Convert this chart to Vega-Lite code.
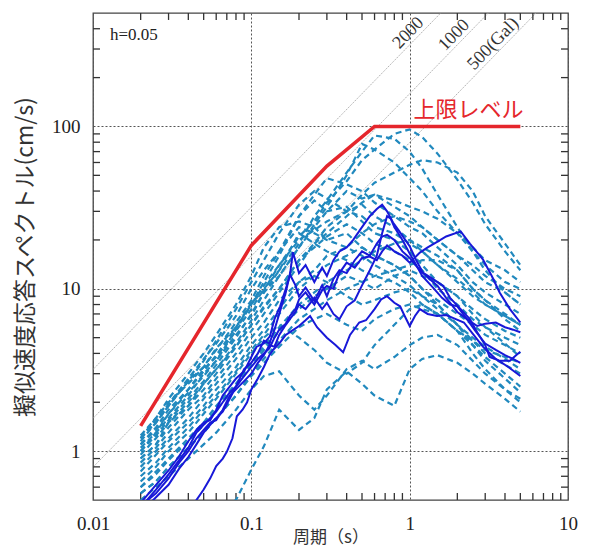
{
"$schema":"https://vega.github.io/schema/vega-lite/v6.json",
"width":475,"height":487,
"autosize":{"type":"none"},
"padding":{"left":93,"top":13,"right":23,"bottom":49},
"background":"white",
"config":{"view":{"stroke":"#444","strokeWidth":1.3}},
"datasets":{
"diag":[{"g":"2000","t":0.01,"v":3.183},{"g":"2000","t":1.571,"v":500},{"g":"1000","t":0.01,"v":1.592},{"g":"1000","t":3.1416,"v":500},{"g":"500","t":0.01,"v":0.796},{"g":"500","t":6.283,"v":500}],
"xticks":[{"t":0.02},{"t":0.03},{"t":0.04},{"t":0.05},{"t":0.06},{"t":0.07},{"t":0.08},{"t":0.09},{"t":0.2},{"t":0.3},{"t":0.4},{"t":0.5},{"t":0.6},{"t":0.7},{"t":0.8},{"t":0.9},{"t":2},{"t":3},{"t":4},{"t":5},{"t":6},{"t":7},{"t":8},{"t":9}],
"yticks":[{"v":0.6},{"v":0.7},{"v":0.8},{"v":0.9},{"v":2},{"v":3},{"v":4},{"v":5},{"v":6},{"v":7},{"v":8},{"v":9},{"v":20},{"v":30},{"v":40},{"v":50},{"v":60},{"v":70},{"v":80},{"v":90},{"v":200},{"v":300},{"v":400}],
"red":[{"t":0.02,"v":1.43},{"t":0.1,"v":18.5},{"t":0.3,"v":57},{"t":0.6,"v":100},{"t":5,"v":100}],
"diaglab":[{"t":1.08,"v":344,"label":"2000"},{"t":2.1,"v":334,"label":"1000"},{"t":3.7,"v":295,"label":"500(Gal)"}],
"redlab":[{"t":2.35,"v":127,"label":"上限レベル"}],
"hlab":[{"t":0.0128,"v":368,"label":"h=0.05"}],
"dashed":[
{"s":"d1","t":0.02,"v":1.2},{"s":"d1","t":0.025,"v":1.5},{"s":"d1","t":0.03,"v":1.9},{"s":"d1","t":0.04,"v":2.7},{"s":"d1","t":0.05,"v":3.3},{"s":"d1","t":0.06,"v":4.3},{"s":"d1","t":0.08,"v":5.8},{"s":"d1","t":0.1,"v":8.2},{"s":"d1","t":0.12,"v":9.8},{"s":"d1","t":0.15,"v":14},{"s":"d1","t":0.2,"v":21},{"s":"d1","t":0.25,"v":26},{"s":"d1","t":0.3,"v":34},{"s":"d1","t":0.4,"v":46},{"s":"d1","t":0.5,"v":62},{"s":"d1","t":0.6,"v":72},{"s":"d1","t":0.8,"v":90},{"s":"d1","t":1,"v":96},{"s":"d1","t":1.2,"v":86},{"s":"d1","t":1.5,"v":68},{"s":"d1","t":2,"v":47},{"s":"d1","t":2.5,"v":34},{"s":"d1","t":3,"v":25},{"s":"d1","t":4,"v":17},{"s":"d1","t":5,"v":13},
{"s":"d2","t":0.02,"v":1.1},{"s":"d2","t":0.025,"v":1.4},{"s":"d2","t":0.03,"v":1.8},{"s":"d2","t":0.04,"v":2.4},{"s":"d2","t":0.05,"v":3.2},{"s":"d2","t":0.06,"v":3.8},{"s":"d2","t":0.08,"v":5.5},{"s":"d2","t":0.1,"v":7.5},{"s":"d2","t":0.12,"v":10},{"s":"d2","t":0.15,"v":13},{"s":"d2","t":0.2,"v":19},{"s":"d2","t":0.25,"v":28},{"s":"d2","t":0.3,"v":35},{"s":"d2","t":0.4,"v":52},{"s":"d2","t":0.5,"v":70},{"s":"d2","t":0.6,"v":88},{"s":"d2","t":0.8,"v":84},{"s":"d2","t":1,"v":70},{"s":"d2","t":1.2,"v":55},{"s":"d2","t":1.5,"v":38},{"s":"d2","t":2,"v":24},{"s":"d2","t":2.5,"v":17},{"s":"d2","t":3,"v":13},{"s":"d2","t":4,"v":9.5},{"s":"d2","t":5,"v":8},
{"s":"d3","t":0.02,"v":1.0},{"s":"d3","t":0.025,"v":1.3},{"s":"d3","t":0.03,"v":1.7},{"s":"d3","t":0.04,"v":2.3},{"s":"d3","t":0.05,"v":2.9},{"s":"d3","t":0.06,"v":3.6},{"s":"d3","t":0.08,"v":5.2},{"s":"d3","t":0.1,"v":6.8},{"s":"d3","t":0.12,"v":9.5},{"s":"d3","t":0.15,"v":12},{"s":"d3","t":0.2,"v":18},{"s":"d3","t":0.25,"v":25},{"s":"d3","t":0.3,"v":32},{"s":"d3","t":0.4,"v":50},{"s":"d3","t":0.5,"v":78},{"s":"d3","t":0.6,"v":72},{"s":"d3","t":0.8,"v":60},{"s":"d3","t":1,"v":48},{"s":"d3","t":1.2,"v":40},{"s":"d3","t":1.5,"v":30},{"s":"d3","t":2,"v":22},{"s":"d3","t":2.5,"v":17},{"s":"d3","t":3,"v":14},{"s":"d3","t":4,"v":11},{"s":"d3","t":5,"v":10},
{"s":"d4","t":0.02,"v":0.9},{"s":"d4","t":0.025,"v":1.1},{"s":"d4","t":0.03,"v":1.5},{"s":"d4","t":0.04,"v":1.9},{"s":"d4","t":0.05,"v":2.6},{"s":"d4","t":0.06,"v":3.2},{"s":"d4","t":0.08,"v":4.4},{"s":"d4","t":0.1,"v":6},{"s":"d4","t":0.12,"v":7.6},{"s":"d4","t":0.15,"v":10},{"s":"d4","t":0.2,"v":15},{"s":"d4","t":0.25,"v":19},{"s":"d4","t":0.3,"v":24},{"s":"d4","t":0.4,"v":30},{"s":"d4","t":0.5,"v":38},{"s":"d4","t":0.6,"v":45},{"s":"d4","t":0.8,"v":52},{"s":"d4","t":1,"v":58},{"s":"d4","t":1.2,"v":62},{"s":"d4","t":1.5,"v":60},{"s":"d4","t":2,"v":52},{"s":"d4","t":2.5,"v":40},{"s":"d4","t":3,"v":28},{"s":"d4","t":4,"v":19},{"s":"d4","t":5,"v":14},
{"s":"d5","t":0.02,"v":1.25},{"s":"d5","t":0.025,"v":1.6},{"s":"d5","t":0.03,"v":2.0},{"s":"d5","t":0.04,"v":2.6},{"s":"d5","t":0.05,"v":3.3},{"s":"d5","t":0.06,"v":4.2},{"s":"d5","t":0.08,"v":6.2},{"s":"d5","t":0.1,"v":8.5},{"s":"d5","t":0.12,"v":12},{"s":"d5","t":0.15,"v":17},{"s":"d5","t":0.2,"v":28},{"s":"d5","t":0.25,"v":38},{"s":"d5","t":0.3,"v":48},{"s":"d5","t":0.4,"v":44},{"s":"d5","t":0.5,"v":40},{"s":"d5","t":0.6,"v":34},{"s":"d5","t":0.8,"v":28},{"s":"d5","t":1,"v":24},{"s":"d5","t":1.2,"v":22},{"s":"d5","t":1.5,"v":18},{"s":"d5","t":2,"v":14},{"s":"d5","t":2.5,"v":11},{"s":"d5","t":3,"v":9.5},{"s":"d5","t":4,"v":8},{"s":"d5","t":5,"v":7},
{"s":"d6","t":0.02,"v":1.15},{"s":"d6","t":0.025,"v":1.5},{"s":"d6","t":0.03,"v":1.9},{"s":"d6","t":0.04,"v":2.7},{"s":"d6","t":0.05,"v":3.6},{"s":"d6","t":0.06,"v":4.8},{"s":"d6","t":0.08,"v":7.5},{"s":"d6","t":0.1,"v":11},{"s":"d6","t":0.12,"v":15},{"s":"d6","t":0.15,"v":22},{"s":"d6","t":0.2,"v":33},{"s":"d6","t":0.25,"v":40},{"s":"d6","t":0.3,"v":36},{"s":"d6","t":0.4,"v":30},{"s":"d6","t":0.5,"v":33},{"s":"d6","t":0.6,"v":28},{"s":"d6","t":0.8,"v":24},{"s":"d6","t":1,"v":20},{"s":"d6","t":1.2,"v":17},{"s":"d6","t":1.5,"v":14},{"s":"d6","t":2,"v":11},{"s":"d6","t":2.5,"v":9},{"s":"d6","t":3,"v":8},{"s":"d6","t":4,"v":6.8},{"s":"d6","t":5,"v":6},
{"s":"d7","t":0.02,"v":0.95},{"s":"d7","t":0.025,"v":1.2},{"s":"d7","t":0.03,"v":1.5},{"s":"d7","t":0.04,"v":2},{"s":"d7","t":0.05,"v":2.6},{"s":"d7","t":0.06,"v":3.2},{"s":"d7","t":0.08,"v":4.6},{"s":"d7","t":0.1,"v":6.4},{"s":"d7","t":0.12,"v":8.5},{"s":"d7","t":0.15,"v":12},{"s":"d7","t":0.2,"v":18},{"s":"d7","t":0.25,"v":24},{"s":"d7","t":0.3,"v":30},{"s":"d7","t":0.4,"v":40},{"s":"d7","t":0.5,"v":36},{"s":"d7","t":0.6,"v":38},{"s":"d7","t":0.8,"v":32},{"s":"d7","t":1,"v":28},{"s":"d7","t":1.2,"v":24},{"s":"d7","t":1.5,"v":20},{"s":"d7","t":2,"v":16},{"s":"d7","t":2.5,"v":14},{"s":"d7","t":3,"v":12},{"s":"d7","t":4,"v":10},{"s":"d7","t":5,"v":9},
{"s":"d8","t":0.02,"v":1.05},{"s":"d8","t":0.025,"v":1.3},{"s":"d8","t":0.03,"v":1.6},{"s":"d8","t":0.04,"v":2.2},{"s":"d8","t":0.05,"v":3},{"s":"d8","t":0.06,"v":3.6},{"s":"d8","t":0.08,"v":5.6},{"s":"d8","t":0.1,"v":8},{"s":"d8","t":0.12,"v":11},{"s":"d8","t":0.15,"v":16},{"s":"d8","t":0.2,"v":28},{"s":"d8","t":0.25,"v":35},{"s":"d8","t":0.3,"v":30},{"s":"d8","t":0.4,"v":32},{"s":"d8","t":0.5,"v":26},{"s":"d8","t":0.6,"v":22},{"s":"d8","t":0.8,"v":20},{"s":"d8","t":1,"v":17},{"s":"d8","t":1.2,"v":14},{"s":"d8","t":1.5,"v":11},{"s":"d8","t":2,"v":9},{"s":"d8","t":2.5,"v":7.5},{"s":"d8","t":3,"v":6.5},{"s":"d8","t":4,"v":5.5},{"s":"d8","t":5,"v":5},
{"s":"d9","t":0.02,"v":0.85},{"s":"d9","t":0.025,"v":1.05},{"s":"d9","t":0.03,"v":1.3},{"s":"d9","t":0.04,"v":1.8},{"s":"d9","t":0.05,"v":2.2},{"s":"d9","t":0.06,"v":2.8},{"s":"d9","t":0.08,"v":4},{"s":"d9","t":0.1,"v":5.5},{"s":"d9","t":0.12,"v":7},{"s":"d9","t":0.15,"v":9.5},{"s":"d9","t":0.2,"v":14},{"s":"d9","t":0.25,"v":19},{"s":"d9","t":0.3,"v":22},{"s":"d9","t":0.4,"v":28},{"s":"d9","t":0.5,"v":34},{"s":"d9","t":0.6,"v":38},{"s":"d9","t":0.8,"v":35},{"s":"d9","t":1,"v":32},{"s":"d9","t":1.2,"v":30},{"s":"d9","t":1.5,"v":27},{"s":"d9","t":2,"v":22},{"s":"d9","t":2.5,"v":18},{"s":"d9","t":3,"v":15},{"s":"d9","t":4,"v":13},{"s":"d9","t":5,"v":11},
{"s":"d10","t":0.02,"v":1.2},{"s":"d10","t":0.025,"v":1.6},{"s":"d10","t":0.03,"v":2.1},{"s":"d10","t":0.04,"v":3},{"s":"d10","t":0.05,"v":4},{"s":"d10","t":0.06,"v":5.2},{"s":"d10","t":0.08,"v":8},{"s":"d10","t":0.1,"v":12},{"s":"d10","t":0.12,"v":18},{"s":"d10","t":0.15,"v":24},{"s":"d10","t":0.2,"v":26},{"s":"d10","t":0.25,"v":24},{"s":"d10","t":0.3,"v":20},{"s":"d10","t":0.4,"v":22},{"s":"d10","t":0.5,"v":18},{"s":"d10","t":0.6,"v":16},{"s":"d10","t":0.8,"v":14},{"s":"d10","t":1,"v":12},{"s":"d10","t":1.2,"v":10},{"s":"d10","t":1.5,"v":8.5},{"s":"d10","t":2,"v":7},{"s":"d10","t":2.5,"v":6},{"s":"d10","t":3,"v":5.2},{"s":"d10","t":4,"v":4.5},{"s":"d10","t":5,"v":4},
{"s":"d11","t":0.02,"v":0.75},{"s":"d11","t":0.025,"v":0.95},{"s":"d11","t":0.03,"v":1.15},{"s":"d11","t":0.04,"v":1.5},{"s":"d11","t":0.05,"v":1.9},{"s":"d11","t":0.06,"v":2.4},{"s":"d11","t":0.08,"v":3.3},{"s":"d11","t":0.1,"v":4.5},{"s":"d11","t":0.12,"v":5.6},{"s":"d11","t":0.15,"v":7.5},{"s":"d11","t":0.2,"v":11},{"s":"d11","t":0.25,"v":13},{"s":"d11","t":0.3,"v":16},{"s":"d11","t":0.4,"v":18},{"s":"d11","t":0.5,"v":22},{"s":"d11","t":0.6,"v":25},{"s":"d11","t":0.8,"v":28},{"s":"d11","t":1,"v":26},{"s":"d11","t":1.2,"v":24},{"s":"d11","t":1.5,"v":20},{"s":"d11","t":2,"v":16},{"s":"d11","t":2.5,"v":13},{"s":"d11","t":3,"v":11},{"s":"d11","t":4,"v":9.5},{"s":"d11","t":5,"v":8},
{"s":"d12","t":0.02,"v":0.9},{"s":"d12","t":0.025,"v":1.1},{"s":"d12","t":0.03,"v":1.4},{"s":"d12","t":0.04,"v":1.9},{"s":"d12","t":0.05,"v":2.4},{"s":"d12","t":0.06,"v":3},{"s":"d12","t":0.08,"v":4.4},{"s":"d12","t":0.1,"v":6},{"s":"d12","t":0.12,"v":7.8},{"s":"d12","t":0.15,"v":10},{"s":"d12","t":0.2,"v":15},{"s":"d12","t":0.25,"v":18},{"s":"d12","t":0.3,"v":21},{"s":"d12","t":0.4,"v":25},{"s":"d12","t":0.5,"v":22},{"s":"d12","t":0.6,"v":19},{"s":"d12","t":0.8,"v":17},{"s":"d12","t":1,"v":15},{"s":"d12","t":1.2,"v":13},{"s":"d12","t":1.5,"v":10},{"s":"d12","t":2,"v":8},{"s":"d12","t":2.5,"v":6.5},{"s":"d12","t":3,"v":5.8},{"s":"d12","t":4,"v":5},{"s":"d12","t":5,"v":4.5},
{"s":"d13","t":0.02,"v":1.0},{"s":"d13","t":0.025,"v":1.25},{"s":"d13","t":0.03,"v":1.55},{"s":"d13","t":0.04,"v":2.1},{"s":"d13","t":0.05,"v":2.7},{"s":"d13","t":0.06,"v":3.4},{"s":"d13","t":0.08,"v":5},{"s":"d13","t":0.1,"v":7},{"s":"d13","t":0.12,"v":9.5},{"s":"d13","t":0.15,"v":13},{"s":"d13","t":0.2,"v":22},{"s":"d13","t":0.25,"v":19},{"s":"d13","t":0.3,"v":17},{"s":"d13","t":0.4,"v":15},{"s":"d13","t":0.5,"v":13},{"s":"d13","t":0.6,"v":12},{"s":"d13","t":0.8,"v":11},{"s":"d13","t":1,"v":9.5},{"s":"d13","t":1.2,"v":8},{"s":"d13","t":1.5,"v":7},{"s":"d13","t":2,"v":5.5},{"s":"d13","t":2.5,"v":4.8},{"s":"d13","t":3,"v":4.2},{"s":"d13","t":4,"v":3.8},{"s":"d13","t":5,"v":3.5},
{"s":"d14","t":0.02,"v":0.6},{"s":"d14","t":0.025,"v":0.75},{"s":"d14","t":0.03,"v":0.9},{"s":"d14","t":0.04,"v":1.2},{"s":"d14","t":0.05,"v":1.5},{"s":"d14","t":0.06,"v":1.9},{"s":"d14","t":0.08,"v":2.6},{"s":"d14","t":0.1,"v":3.5},{"s":"d14","t":0.12,"v":4.4},{"s":"d14","t":0.15,"v":5.8},{"s":"d14","t":0.2,"v":8},{"s":"d14","t":0.25,"v":9.5},{"s":"d14","t":0.3,"v":11},{"s":"d14","t":0.4,"v":13},{"s":"d14","t":0.5,"v":15},{"s":"d14","t":0.6,"v":17},{"s":"d14","t":0.8,"v":19},{"s":"d14","t":1,"v":20},{"s":"d14","t":1.2,"v":18},{"s":"d14","t":1.5,"v":16},{"s":"d14","t":2,"v":13},{"s":"d14","t":2.5,"v":10},{"s":"d14","t":3,"v":8.5},{"s":"d14","t":4,"v":7},{"s":"d14","t":5,"v":6},
{"s":"d15","t":0.02,"v":0.7},{"s":"d15","t":0.025,"v":0.85},{"s":"d15","t":0.03,"v":1.05},{"s":"d15","t":0.04,"v":1.4},{"s":"d15","t":0.05,"v":1.8},{"s":"d15","t":0.06,"v":2.2},{"s":"d15","t":0.08,"v":3.1},{"s":"d15","t":0.1,"v":4.2},{"s":"d15","t":0.12,"v":5.2},{"s":"d15","t":0.15,"v":7},{"s":"d15","t":0.2,"v":10},{"s":"d15","t":0.25,"v":12},{"s":"d15","t":0.3,"v":14},{"s":"d15","t":0.4,"v":16},{"s":"d15","t":0.5,"v":18},{"s":"d15","t":0.6,"v":16},{"s":"d15","t":0.8,"v":14},{"s":"d15","t":1,"v":12},{"s":"d15","t":1.2,"v":10},{"s":"d15","t":1.5,"v":8},{"s":"d15","t":2,"v":6},{"s":"d15","t":2.5,"v":4.8},{"s":"d15","t":3,"v":4},{"s":"d15","t":4,"v":3.4},{"s":"d15","t":5,"v":3},
{"s":"d16","t":0.02,"v":0.55},{"s":"d16","t":0.025,"v":0.65},{"s":"d16","t":0.03,"v":0.8},{"s":"d16","t":0.04,"v":1.05},{"s":"d16","t":0.05,"v":1.3},{"s":"d16","t":0.06,"v":1.6},{"s":"d16","t":0.08,"v":2.2},{"s":"d16","t":0.1,"v":3},{"s":"d16","t":0.12,"v":3.7},{"s":"d16","t":0.15,"v":4.8},{"s":"d16","t":0.2,"v":6.5},{"s":"d16","t":0.25,"v":7.5},{"s":"d16","t":0.3,"v":8.5},{"s":"d16","t":0.4,"v":10},{"s":"d16","t":0.5,"v":11},{"s":"d16","t":0.6,"v":12},{"s":"d16","t":0.8,"v":13},{"s":"d16","t":1,"v":14},{"s":"d16","t":1.2,"v":15},{"s":"d16","t":1.5,"v":15},{"s":"d16","t":2,"v":13},{"s":"d16","t":2.5,"v":10},{"s":"d16","t":3,"v":8.5},{"s":"d16","t":4,"v":6.5},{"s":"d16","t":5,"v":5.5},
{"s":"d17","t":0.02,"v":0.8},{"s":"d17","t":0.025,"v":1},{"s":"d17","t":0.03,"v":1.2},{"s":"d17","t":0.04,"v":1.6},{"s":"d17","t":0.05,"v":2.1},{"s":"d17","t":0.06,"v":2.6},{"s":"d17","t":0.08,"v":3.7},{"s":"d17","t":0.1,"v":5},{"s":"d17","t":0.12,"v":6.2},{"s":"d17","t":0.15,"v":8.5},{"s":"d17","t":0.2,"v":11},{"s":"d17","t":0.25,"v":12},{"s":"d17","t":0.3,"v":11},{"s":"d17","t":0.4,"v":9},{"s":"d17","t":0.5,"v":8},{"s":"d17","t":0.6,"v":8.5},{"s":"d17","t":0.8,"v":9.5},{"s":"d17","t":1,"v":10},{"s":"d17","t":1.2,"v":9},{"s":"d17","t":1.5,"v":8},{"s":"d17","t":2,"v":6},{"s":"d17","t":2.5,"v":4.5},{"s":"d17","t":3,"v":3.8},{"s":"d17","t":4,"v":3},{"s":"d17","t":5,"v":2.5},
{"s":"d18","t":0.02,"v":0.65},{"s":"d18","t":0.025,"v":0.8},{"s":"d18","t":0.03,"v":1},{"s":"d18","t":0.04,"v":1.3},{"s":"d18","t":0.05,"v":1.7},{"s":"d18","t":0.06,"v":2.1},{"s":"d18","t":0.08,"v":3},{"s":"d18","t":0.1,"v":4},{"s":"d18","t":0.12,"v":5},{"s":"d18","t":0.15,"v":6},{"s":"d18","t":0.2,"v":5},{"s":"d18","t":0.25,"v":4.2},{"s":"d18","t":0.3,"v":3.5},{"s":"d18","t":0.4,"v":3},{"s":"d18","t":0.5,"v":3.5},{"s":"d18","t":0.6,"v":4.5},{"s":"d18","t":0.8,"v":6},{"s":"d18","t":1,"v":7.5},{"s":"d18","t":1.2,"v":8},{"s":"d18","t":1.5,"v":7},{"s":"d18","t":2,"v":5.5},{"s":"d18","t":2.5,"v":4},{"s":"d18","t":3,"v":3.2},{"s":"d18","t":4,"v":2.4},{"s":"d18","t":5,"v":2},
{"s":"d19","t":0.02,"v":0.3},{"s":"d19","t":0.025,"v":0.32},{"s":"d19","t":0.03,"v":0.34},{"s":"d19","t":0.04,"v":0.37},{"s":"d19","t":0.05,"v":0.4},{"s":"d19","t":0.06,"v":0.42},{"s":"d19","t":0.08,"v":0.5},{"s":"d19","t":0.1,"v":0.77},{"s":"d19","t":0.12,"v":1.07},{"s":"d19","t":0.15,"v":1.8},{"s":"d19","t":0.2,"v":1.35},{"s":"d19","t":0.25,"v":1.6},{"s":"d19","t":0.3,"v":2.4},{"s":"d19","t":0.4,"v":3.1},{"s":"d19","t":0.5,"v":2.6},{"s":"d19","t":0.6,"v":2.2},{"s":"d19","t":0.8,"v":1.9},{"s":"d19","t":1,"v":3.2},{"s":"d19","t":1.2,"v":3.7},{"s":"d19","t":1.5,"v":3.9},{"s":"d19","t":2,"v":3.5},{"s":"d19","t":2.5,"v":3.0},{"s":"d19","t":3,"v":2.6},{"s":"d19","t":4,"v":2.1},{"s":"d19","t":5,"v":1.75},
{"s":"d20","t":0.02,"v":0.5},{"s":"d20","t":0.025,"v":0.6},{"s":"d20","t":0.03,"v":0.7},{"s":"d20","t":0.04,"v":0.9},{"s":"d20","t":0.05,"v":1.1},{"s":"d20","t":0.06,"v":1.3},{"s":"d20","t":0.08,"v":1.8},{"s":"d20","t":0.1,"v":2.4},{"s":"d20","t":0.12,"v":2.9},{"s":"d20","t":0.15,"v":3.1},{"s":"d20","t":0.2,"v":2.2},{"s":"d20","t":0.25,"v":1.8},{"s":"d20","t":0.3,"v":2.2},{"s":"d20","t":0.4,"v":3.2},{"s":"d20","t":0.5,"v":3.6},{"s":"d20","t":0.6,"v":3.2},{"s":"d20","t":0.8,"v":3.8},{"s":"d20","t":1,"v":4.5},{"s":"d20","t":1.2,"v":5},{"s":"d20","t":1.5,"v":5.2},{"s":"d20","t":2,"v":4.5},{"s":"d20","t":2.5,"v":3.6},{"s":"d20","t":3,"v":3},{"s":"d20","t":4,"v":2.4},{"s":"d20","t":5,"v":2.1},
{"s":"d21","t":0.02,"v":0.55},{"s":"d21","t":0.025,"v":0.65},{"s":"d21","t":0.03,"v":0.8},{"s":"d21","t":0.04,"v":1.05},{"s":"d21","t":0.05,"v":1.3},{"s":"d21","t":0.06,"v":1.6},{"s":"d21","t":0.08,"v":2.2},{"s":"d21","t":0.1,"v":2.9},{"s":"d21","t":0.12,"v":3.5},{"s":"d21","t":0.15,"v":4.4},{"s":"d21","t":0.2,"v":5.8},{"s":"d21","t":0.25,"v":6.5},{"s":"d21","t":0.3,"v":7},{"s":"d21","t":0.4,"v":6},{"s":"d21","t":0.5,"v":5.5},{"s":"d21","t":0.6,"v":6.5},{"s":"d21","t":0.8,"v":7.5},{"s":"d21","t":1,"v":8},{"s":"d21","t":1.2,"v":7.5},{"s":"d21","t":1.5,"v":7},{"s":"d21","t":2,"v":5.5},{"s":"d21","t":2.5,"v":4.5},{"s":"d21","t":3,"v":3.6},{"s":"d21","t":4,"v":2.8},{"s":"d21","t":5,"v":2.3},
{"s":"d22","t":0.02,"v":0.6},{"s":"d22","t":0.025,"v":0.72},{"s":"d22","t":0.03,"v":0.88},{"s":"d22","t":0.04,"v":1.15},{"s":"d22","t":0.05,"v":1.45},{"s":"d22","t":0.06,"v":1.8},{"s":"d22","t":0.08,"v":2.5},{"s":"d22","t":0.1,"v":3.4},{"s":"d22","t":0.12,"v":4.2},{"s":"d22","t":0.15,"v":5.5},{"s":"d22","t":0.2,"v":7.5},{"s":"d22","t":0.25,"v":9},{"s":"d22","t":0.3,"v":10},{"s":"d22","t":0.4,"v":12},{"s":"d22","t":0.5,"v":11},{"s":"d22","t":0.6,"v":10},{"s":"d22","t":0.8,"v":12},{"s":"d22","t":1,"v":13},{"s":"d22","t":1.2,"v":12},{"s":"d22","t":1.5,"v":11},{"s":"d22","t":2,"v":9},{"s":"d22","t":2.5,"v":7},{"s":"d22","t":3,"v":5.8},{"s":"d22","t":4,"v":4.6},{"s":"d22","t":5,"v":3.8},
{"s":"d23","t":0.02,"v":1.1},{"s":"d23","t":0.025,"v":1.35},{"s":"d23","t":0.03,"v":1.7},{"s":"d23","t":0.04,"v":2.4},{"s":"d23","t":0.05,"v":3.1},{"s":"d23","t":0.06,"v":3.9},{"s":"d23","t":0.08,"v":5.8},{"s":"d23","t":0.1,"v":8},{"s":"d23","t":0.12,"v":10.5},{"s":"d23","t":0.15,"v":14},{"s":"d23","t":0.2,"v":20},{"s":"d23","t":0.25,"v":23},{"s":"d23","t":0.3,"v":26},{"s":"d23","t":0.4,"v":30},{"s":"d23","t":0.5,"v":28},{"s":"d23","t":0.6,"v":24},{"s":"d23","t":0.8,"v":22},{"s":"d23","t":1,"v":19},{"s":"d23","t":1.2,"v":17},{"s":"d23","t":1.5,"v":14},{"s":"d23","t":2,"v":11.5},{"s":"d23","t":2.5,"v":9.5},{"s":"d23","t":3,"v":8},{"s":"d23","t":4,"v":6.8},{"s":"d23","t":5,"v":6},
{"s":"d24","t":0.02,"v":1.2},{"s":"d24","t":0.025,"v":1.55},{"s":"d24","t":0.03,"v":1.95},{"s":"d24","t":0.04,"v":2.8},{"s":"d24","t":0.05,"v":3.7},{"s":"d24","t":0.06,"v":4.6},{"s":"d24","t":0.08,"v":6.8},{"s":"d24","t":0.1,"v":10},{"s":"d24","t":0.12,"v":13},{"s":"d24","t":0.15,"v":17},{"s":"d24","t":0.2,"v":24},{"s":"d24","t":0.25,"v":22},{"s":"d24","t":0.3,"v":20},{"s":"d24","t":0.4,"v":18},{"s":"d24","t":0.5,"v":16},{"s":"d24","t":0.6,"v":14},{"s":"d24","t":0.8,"v":12},{"s":"d24","t":1,"v":10.5},{"s":"d24","t":1.2,"v":9},{"s":"d24","t":1.5,"v":7.5},{"s":"d24","t":2,"v":6},{"s":"d24","t":2.5,"v":5},{"s":"d24","t":3,"v":4.4},{"s":"d24","t":4,"v":3.7},{"s":"d24","t":5,"v":3.2}
],
"solid":[
{"s":"S1","t":0.02,"v":0.48},{"s":"S1","t":0.025,"v":0.62},{"s":"S1","t":0.03,"v":0.76},{"s":"S1","t":0.035,"v":0.93},{"s":"S1","t":0.04,"v":1.15},{"s":"S1","t":0.045,"v":1.35},{"s":"S1","t":0.05,"v":1.5},{"s":"S1","t":0.055,"v":1.55},{"s":"S1","t":0.06,"v":1.8},{"s":"S1","t":0.066,"v":2.2},{"s":"S1","t":0.073,"v":2.5},{"s":"S1","t":0.08,"v":2.8},{"s":"S1","t":0.09,"v":3.1},{"s":"S1","t":0.1,"v":3.8},{"s":"S1","t":0.108,"v":4.4},{"s":"S1","t":0.12,"v":4.6},{"s":"S1","t":0.131,"v":5.1},{"s":"S1","t":0.14,"v":6.5},{"s":"S1","t":0.152,"v":7.8},{"s":"S1","t":0.165,"v":10},{"s":"S1","t":0.175,"v":12},{"s":"S1","t":0.183,"v":16.8},{"s":"S1","t":0.2,"v":12.5},{"s":"S1","t":0.22,"v":14},{"s":"S1","t":0.25,"v":11},{"s":"S1","t":0.28,"v":13.5},{"s":"S1","t":0.3,"v":12},{"s":"S1","t":0.33,"v":15},{"s":"S1","t":0.36,"v":17},{"s":"S1","t":0.4,"v":18},{"s":"S1","t":0.44,"v":20},{"s":"S1","t":0.5,"v":24},{"s":"S1","t":0.56,"v":28},{"s":"S1","t":0.62,"v":31},{"s":"S1","t":0.67,"v":33},{"s":"S1","t":0.72,"v":30},{"s":"S1","t":0.785,"v":25.6},{"s":"S1","t":0.85,"v":23},{"s":"S1","t":1.0,"v":18.3},{"s":"S1","t":1.1,"v":15},{"s":"S1","t":1.21,"v":12.6},{"s":"S1","t":1.4,"v":11.5},{"s":"S1","t":1.63,"v":10.4},{"s":"S1","t":1.8,"v":8.8},{"s":"S1","t":2.1,"v":7.5},{"s":"S1","t":2.4,"v":6.5},{"s":"S1","t":2.67,"v":5.4},{"s":"S1","t":3.0,"v":4.5},{"s":"S1","t":3.2,"v":3.8},{"s":"S1","t":3.7,"v":3.6},{"s":"S1","t":4.3,"v":3.6},{"s":"S1","t":4.7,"v":3.9},{"s":"S1","t":5,"v":4.1},
{"s":"S2","t":0.02,"v":0.45},{"s":"S2","t":0.025,"v":0.58},{"s":"S2","t":0.03,"v":0.72},{"s":"S2","t":0.035,"v":0.88},{"s":"S2","t":0.04,"v":1.05},{"s":"S2","t":0.045,"v":1.3},{"s":"S2","t":0.05,"v":1.45},{"s":"S2","t":0.055,"v":1.6},{"s":"S2","t":0.06,"v":1.75},{"s":"S2","t":0.066,"v":2.0},{"s":"S2","t":0.073,"v":2.3},{"s":"S2","t":0.08,"v":2.5},{"s":"S2","t":0.09,"v":3.2},{"s":"S2","t":0.1,"v":3.5},{"s":"S2","t":0.11,"v":4.0},{"s":"S2","t":0.12,"v":4.8},{"s":"S2","t":0.13,"v":4.6},{"s":"S2","t":0.14,"v":5.6},{"s":"S2","t":0.15,"v":7.0},{"s":"S2","t":0.165,"v":9.5},{"s":"S2","t":0.175,"v":12.3},{"s":"S2","t":0.19,"v":10.5},{"s":"S2","t":0.2,"v":9.0},{"s":"S2","t":0.22,"v":10.2},{"s":"S2","t":0.25,"v":8.4},{"s":"S2","t":0.28,"v":10.5},{"s":"S2","t":0.3,"v":9.0},{"s":"S2","t":0.33,"v":11.5},{"s":"S2","t":0.36,"v":13},{"s":"S2","t":0.4,"v":12.5},{"s":"S2","t":0.45,"v":15},{"s":"S2","t":0.5,"v":17},{"s":"S2","t":0.56,"v":16},{"s":"S2","t":0.62,"v":19},{"s":"S2","t":0.67,"v":21},{"s":"S2","t":0.72,"v":21.5},{"s":"S2","t":0.8,"v":20},{"s":"S2","t":0.9,"v":17},{"s":"S2","t":1.0,"v":15.5},{"s":"S2","t":1.16,"v":13},{"s":"S2","t":1.3,"v":11.8},{"s":"S2","t":1.5,"v":10.4},{"s":"S2","t":1.7,"v":8.8},{"s":"S2","t":2.0,"v":7.2},{"s":"S2","t":2.3,"v":6.5},{"s":"S2","t":2.67,"v":5.9},{"s":"S2","t":3.0,"v":6.1},{"s":"S2","t":3.5,"v":6.2},{"s":"S2","t":4.0,"v":5.8},{"s":"S2","t":4.5,"v":5.6},{"s":"S2","t":5,"v":5.4},
{"s":"S3","t":0.02,"v":0.42},{"s":"S3","t":0.025,"v":0.52},{"s":"S3","t":0.03,"v":0.62},{"s":"S3","t":0.035,"v":0.78},{"s":"S3","t":0.04,"v":0.92},{"s":"S3","t":0.045,"v":1.1},{"s":"S3","t":0.05,"v":1.3},{"s":"S3","t":0.055,"v":1.45},{"s":"S3","t":0.06,"v":1.6},{"s":"S3","t":0.066,"v":1.75},{"s":"S3","t":0.073,"v":2.1},{"s":"S3","t":0.08,"v":2.5},{"s":"S3","t":0.09,"v":2.9},{"s":"S3","t":0.1,"v":3.3},{"s":"S3","t":0.11,"v":3.7},{"s":"S3","t":0.12,"v":4.0},{"s":"S3","t":0.13,"v":4.3},{"s":"S3","t":0.14,"v":5.0},{"s":"S3","t":0.15,"v":5.6},{"s":"S3","t":0.165,"v":6.1},{"s":"S3","t":0.175,"v":6.8},{"s":"S3","t":0.19,"v":7.5},{"s":"S3","t":0.2,"v":8.6},{"s":"S3","t":0.22,"v":9.5},{"s":"S3","t":0.25,"v":8.0},{"s":"S3","t":0.28,"v":9.8},{"s":"S3","t":0.3,"v":10.4},{"s":"S3","t":0.33,"v":10.0},{"s":"S3","t":0.36,"v":12.5},{"s":"S3","t":0.4,"v":14.5},{"s":"S3","t":0.45,"v":13.5},{"s":"S3","t":0.5,"v":15.5},{"s":"S3","t":0.56,"v":15.8},{"s":"S3","t":0.62,"v":15},{"s":"S3","t":0.67,"v":17},{"s":"S3","t":0.72,"v":18.5},{"s":"S3","t":0.8,"v":17},{"s":"S3","t":0.9,"v":16},{"s":"S3","t":1.0,"v":14.5},{"s":"S3","t":1.16,"v":16.7},{"s":"S3","t":1.3,"v":18},{"s":"S3","t":1.5,"v":19.5},{"s":"S3","t":1.7,"v":21},{"s":"S3","t":2.1,"v":22.6},{"s":"S3","t":2.4,"v":19},{"s":"S3","t":2.9,"v":15.2},{"s":"S3","t":3.3,"v":12},{"s":"S3","t":3.7,"v":9.5},{"s":"S3","t":4.3,"v":7.5},{"s":"S3","t":5,"v":6.2},
{"s":"S4","t":0.02,"v":0.22},{"s":"S4","t":0.03,"v":0.3},{"s":"S4","t":0.04,"v":0.42},{"s":"S4","t":0.045,"v":0.5},{"s":"S4","t":0.05,"v":0.58},{"s":"S4","t":0.055,"v":0.68},{"s":"S4","t":0.06,"v":0.81},{"s":"S4","t":0.066,"v":0.9},{"s":"S4","t":0.07,"v":0.99},{"s":"S4","t":0.076,"v":1.2},{"s":"S4","t":0.081,"v":1.64},{"s":"S4","t":0.088,"v":1.8},{"s":"S4","t":0.094,"v":2.0},{"s":"S4","t":0.1,"v":2.4},{"s":"S4","t":0.11,"v":2.8},{"s":"S4","t":0.12,"v":3.3},{"s":"S4","t":0.13,"v":3.9},{"s":"S4","t":0.137,"v":4.2},{"s":"S4","t":0.15,"v":4.6},{"s":"S4","t":0.165,"v":5.2},{"s":"S4","t":0.18,"v":5.5},{"s":"S4","t":0.2,"v":5.9},{"s":"S4","t":0.22,"v":6.4},{"s":"S4","t":0.235,"v":6.8},{"s":"S4","t":0.26,"v":5.8},{"s":"S4","t":0.3,"v":5.0},{"s":"S4","t":0.34,"v":4.5},{"s":"S4","t":0.38,"v":4.06},{"s":"S4","t":0.42,"v":5.2},{"s":"S4","t":0.48,"v":6.2},{"s":"S4","t":0.53,"v":6.4},{"s":"S4","t":0.6,"v":7.5},{"s":"S4","t":0.66,"v":8.6},{"s":"S4","t":0.72,"v":9.0},{"s":"S4","t":0.8,"v":8.2},{"s":"S4","t":0.87,"v":7.8},{"s":"S4","t":0.93,"v":6.8},{"s":"S4","t":1.0,"v":5.9},{"s":"S4","t":1.08,"v":6.8},{"s":"S4","t":1.16,"v":7.5},{"s":"S4","t":1.3,"v":7.0},{"s":"S4","t":1.49,"v":6.8},{"s":"S4","t":1.7,"v":6.9},{"s":"S4","t":1.89,"v":6.6},{"s":"S4","t":2.2,"v":6.2},{"s":"S4","t":2.5,"v":5.3},{"s":"S4","t":2.9,"v":4.4},{"s":"S4","t":3.5,"v":3.7},{"s":"S4","t":4.2,"v":3.3},{"s":"S4","t":5,"v":2.9},
{"s":"S5","t":0.02,"v":0.46},{"s":"S5","t":0.025,"v":0.55},{"s":"S5","t":0.03,"v":0.68},{"s":"S5","t":0.035,"v":0.85},{"s":"S5","t":0.04,"v":1.0},{"s":"S5","t":0.045,"v":1.2},{"s":"S5","t":0.05,"v":1.35},{"s":"S5","t":0.055,"v":1.5},{"s":"S5","t":0.06,"v":1.55},{"s":"S5","t":0.066,"v":1.8},{"s":"S5","t":0.073,"v":2.2},{"s":"S5","t":0.08,"v":2.4},{"s":"S5","t":0.09,"v":2.7},{"s":"S5","t":0.1,"v":3.0},{"s":"S5","t":0.11,"v":3.5},{"s":"S5","t":0.12,"v":3.9},{"s":"S5","t":0.13,"v":4.5},{"s":"S5","t":0.14,"v":4.4},{"s":"S5","t":0.15,"v":5.2},{"s":"S5","t":0.165,"v":6.0},{"s":"S5","t":0.175,"v":6.5},{"s":"S5","t":0.19,"v":7.2},{"s":"S5","t":0.2,"v":8.0},{"s":"S5","t":0.22,"v":7.5},{"s":"S5","t":0.25,"v":8.8},{"s":"S5","t":0.28,"v":7.5},{"s":"S5","t":0.3,"v":8.2},{"s":"S5","t":0.33,"v":7.0},{"s":"S5","t":0.36,"v":6.5},{"s":"S5","t":0.4,"v":7.8},{"s":"S5","t":0.45,"v":8.5},{"s":"S5","t":0.5,"v":10.5},{"s":"S5","t":0.56,"v":13},{"s":"S5","t":0.62,"v":16},{"s":"S5","t":0.67,"v":22},{"s":"S5","t":0.72,"v":28},{"s":"S5","t":0.76,"v":27},{"s":"S5","t":0.8,"v":24},{"s":"S5","t":0.9,"v":20},{"s":"S5","t":1.0,"v":16.5},{"s":"S5","t":1.1,"v":14},{"s":"S5","t":1.2,"v":12},{"s":"S5","t":1.4,"v":10.2},{"s":"S5","t":1.6,"v":8.8},{"s":"S5","t":1.8,"v":8.0},{"s":"S5","t":2.0,"v":7.8},{"s":"S5","t":2.3,"v":6.5},{"s":"S5","t":2.6,"v":5.5},{"s":"S5","t":3.0,"v":4.6},{"s":"S5","t":3.5,"v":4.2},{"s":"S5","t":4.0,"v":3.9},{"s":"S5","t":4.5,"v":3.7},{"s":"S5","t":5,"v":3.5}
]
},
"layer":[
{"data":{"name":"diag"},"mark":{"type":"line","stroke":"#a8a8a8","strokeWidth":0.9,"strokeDash":[1.5,1],"clip":true},
 "encoding":{
  "x":{"field":"t","type":"quantitative","scale":{"type":"log","domain":[0.01,10],"nice":false},
   "axis":{"values":[0.01,0.1,1,10],"format":"~g",
    "grid":true,"gridColor":"#555","gridDash":[2,2],"gridWidth":1,
    "ticks":false,"domain":false,
    "labelFont":"Liberation Serif","labelFontSize":19,"labelColor":"#222","labelPadding":14,"labelFlush":false,"labelOverlap":false,
    "title":"周期（s）","titleFont":"Noto Sans CJK JP","titleFontSize":17,"titleFontWeight":"normal","titleColor":"#333","titlePadding":-4}},
  "y":{"field":"v","type":"quantitative","scale":{"type":"log","domain":[0.5,500],"nice":false},
   "axis":{"values":[1,10,100],"format":"~g",
    "grid":true,"gridColor":"#555","gridDash":[2,2],"gridWidth":1,
    "ticks":false,"domain":false,
    "labelFont":"Liberation Serif","labelFontSize":19,"labelColor":"#222","labelPadding":13,"labelOverlap":false,"labelFlush":false,
    "title":"擬似速度応答スペクトル(cm/s)","titleFont":"Noto Sans CJK JP","titleFontSize":23,"titleFontWeight":"normal","titleColor":"#333","titlePadding":14}},
  "detail":{"field":"g"}}},
{"data":{"name":"xticks"},"mark":{"type":"rule","stroke":"#333","strokeWidth":1.3},
 "encoding":{"x":{"field":"t","type":"quantitative"},"y":{"datum":0.5,"type":"quantitative"},"y2":{"datum":0.552}}},
{"data":{"name":"xticks"},"mark":{"type":"rule","stroke":"#333","strokeWidth":1.3},
 "encoding":{"x":{"field":"t","type":"quantitative"},"y":{"datum":500,"type":"quantitative"},"y2":{"datum":453}}},
{"data":{"name":"yticks"},"mark":{"type":"rule","stroke":"#333","strokeWidth":1.3},
 "encoding":{"y":{"field":"v","type":"quantitative"},"x":{"datum":0.01,"type":"quantitative"},"x2":{"datum":0.01107}}},
{"data":{"name":"yticks"},"mark":{"type":"rule","stroke":"#333","strokeWidth":1.3},
 "encoding":{"y":{"field":"v","type":"quantitative"},"x":{"datum":10,"type":"quantitative"},"x2":{"datum":9.03}}},
{"data":{"name":"dashed"},"mark":{"type":"line","stroke":"#2189be","strokeWidth":2.2,"strokeDash":[6,4],"clip":true},
 "encoding":{"x":{"field":"t","type":"quantitative"},"y":{"field":"v","type":"quantitative"},"detail":{"field":"s"}}},
{"data":{"name":"solid"},"mark":{"type":"line","stroke":"#1818d8","strokeWidth":2,"clip":true},
 "encoding":{"x":{"field":"t","type":"quantitative"},"y":{"field":"v","type":"quantitative"},"detail":{"field":"s"}}},
{"data":{"name":"red"},"mark":{"type":"line","stroke":"#e5262c","strokeWidth":3.5,"clip":true},
 "encoding":{"x":{"field":"t","type":"quantitative"},"y":{"field":"v","type":"quantitative"}}},
{"data":{"name":"diaglab"},"mark":{"type":"text","font":"Liberation Serif","fontSize":18,"color":"#333","angle":-46,"align":"center","baseline":"bottom"},
 "encoding":{"x":{"field":"t","type":"quantitative"},"y":{"field":"v","type":"quantitative"},"text":{"field":"label"}}},
{"data":{"name":"redlab"},"mark":{"type":"text","font":"Noto Sans CJK JP","fontSize":22,"color":"#e5262c","align":"center","baseline":"middle"},
 "encoding":{"x":{"field":"t","type":"quantitative"},"y":{"field":"v","type":"quantitative"},"text":{"field":"label"}}},
{"data":{"name":"hlab"},"mark":{"type":"text","font":"Liberation Serif","fontSize":17,"color":"#222","align":"left","baseline":"middle"},
 "encoding":{"x":{"field":"t","type":"quantitative"},"y":{"field":"v","type":"quantitative"},"text":{"field":"label"}}}
]
}
